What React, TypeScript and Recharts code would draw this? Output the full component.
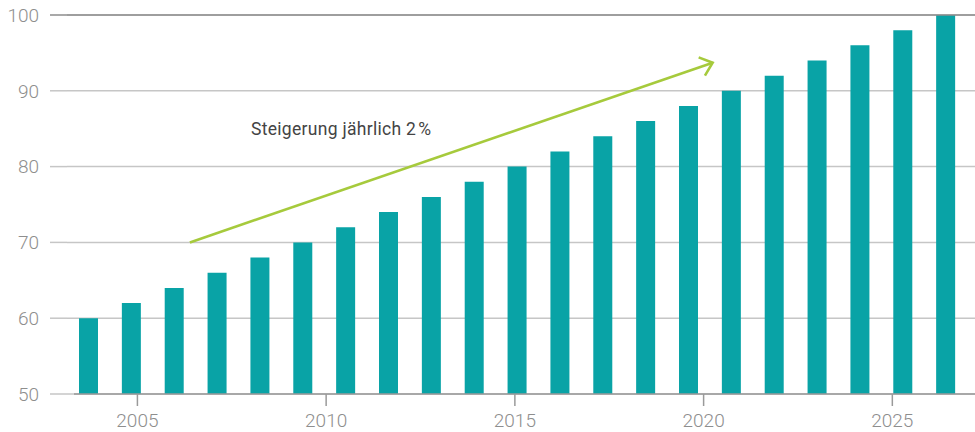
import React from 'react';
import {
  BarChart,
  Bar,
  XAxis,
  YAxis,
  CartesianGrid,
  ReferenceLine,
  ReferenceDot,
} from 'recharts';

// one bar per year, +2 each step
const categories = [
  '2006', '2007', '2008', '2009', '2010', '2011', '2012', '2013', '2014', '2015', '2016',
  '2017', '2018', '2019', '2020', '2021', '2022', '2023', '2024', '2025', '2026',
];
const values = [60, 62, 64, 66, 68, 70, 72, 74, 76, 78, 80, 82, 84, 86, 88, 90, 92, 94, 96, 98, 100];
const yTicks = [50, 60, 70, 80, 90, 100];
const yearTicks = [2005, 2010, 2015, 2020, 2025];
const yearDomain = [2003.32, 2027.19];

// annotation arrow, in data units (year axis / value axis)
const arrowStart = { year: 2006.39, value: 70 };
const arrowEnd = { year: 2020.24, value: 93.7 };
const noteAnchor = { year: 2008.01, value: 84.17 };
const noteText = 'Steigerung jährlich 2\u200A%';

const data = categories.map((name, i) => ({ name, value: values[i] }));

const BAR = '#09a3a6';
const GRID = '#c6c6c6';
const GRID_TOP = '#8c8c8c';
const AXIS = '#9a9a9a';
const TICK_TEXT = '#8e8e8e';
const ARROW = '#a6ca3c';

const YTick = (props: any) => {
  const { x, y, payload } = props;
  return (
    <g>
      <line
        x1={x - 17}
        x2={x}
        y1={y}
        y2={y}
        stroke={payload.value === 100 ? GRID_TOP : GRID}
        strokeWidth={1.5}
      />
      <text
        x={x - 28}
        y={y}
        dy="0.36em"
        textAnchor="end"
        fill={TICK_TEXT}
        fontSize={19}
        fontWeight={300}
      >
        {payload.value}
      </text>
    </g>
  );
};

const Arrow = (props: any) => {
  const { x1, y1, x2, y2 } = props;
  const ang = Math.atan2(y1 - y2, x1 - x2);
  const len = 15;
  const spread = (40 * Math.PI) / 180;
  const wing = (a: number) => `${x2 + len * Math.cos(a)},${y2 + len * Math.sin(a)}`;
  return (
    <g>
      <line x1={x1} y1={y1} x2={x2} y2={y2} stroke={ARROW} strokeWidth={2.6} />
      <polyline
        points={`${wing(ang + spread)} ${x2},${y2} ${wing(ang - spread)}`}
        fill="none"
        stroke={ARROW}
        strokeWidth={2.6}
      />
    </g>
  );
};

const Note = (props: any) => (
  <text x={props.cx} y={props.cy} fill="#444" fontSize={17.5} letterSpacing={0.3}>
    {noteText}
  </text>
);

export default function App() {
  return (
    <div
      style={{
        position: 'absolute',
        left: 0,
        top: 0,
        width: 975,
        height: 432,
        background: '#fff',
        fontFamily: 'Roboto, "Noto Sans", sans-serif',
      }}
    >
      <BarChart
        width={975}
        height={432}
        data={data}
        margin={{ top: 15, right: 0, left: 0, bottom: 0 }}
      >
        <CartesianGrid vertical={false} stroke={GRID} strokeWidth={1.5} />
        <XAxis
          dataKey="name"
          height={0}
          axisLine={false}
          tickLine={false}
          tick={false}
          padding={{ left: 0, right: 8 }}
        />
        <XAxis
          xAxisId="year"
          dataKey="yr"
          type="number"
          scale="linear"
          domain={yearDomain}
          allowDataOverflow
          ticks={yearTicks}
          padding={{ left: 7, right: 0 }}
          height={38}
          axisLine={false}
          tickLine={{ stroke: AXIS, strokeWidth: 1.5 }}
          tickSize={12}
          tickMargin={8}
          tick={{ fill: TICK_TEXT, fontSize: 19, fontWeight: 300 }}
        />
        <YAxis
          domain={[50, 100]}
          ticks={yTicks}
          width={67}
          axisLine={false}
          tickLine={false}
          tickSize={0}
          tickMargin={0}
          tick={<YTick />}
          allowDataOverflow
        />
        <ReferenceLine y={100} stroke={GRID_TOP} strokeWidth={1.5} />
        <Bar dataKey="value" fill={BAR} barSize={19} isAnimationActive={false} />
        <ReferenceLine
          xAxisId="year"
          segment={[
            { x: yearDomain[0], y: 50 },
            { x: yearDomain[1], y: 50 },
          ]}
          stroke={AXIS}
          strokeWidth={1.5}
          ifOverflow="visible"
        />
        <ReferenceLine
          xAxisId="year"
          segment={[
            { x: arrowStart.year, y: arrowStart.value },
            { x: arrowEnd.year, y: arrowEnd.value },
          ]}
          shape={Arrow}
          ifOverflow="visible"
        />
        <ReferenceDot
          xAxisId="year"
          x={noteAnchor.year}
          y={noteAnchor.value}
          r={0}
          shape={Note}
          ifOverflow="visible"
        />
      </BarChart>
    </div>
  );
}
